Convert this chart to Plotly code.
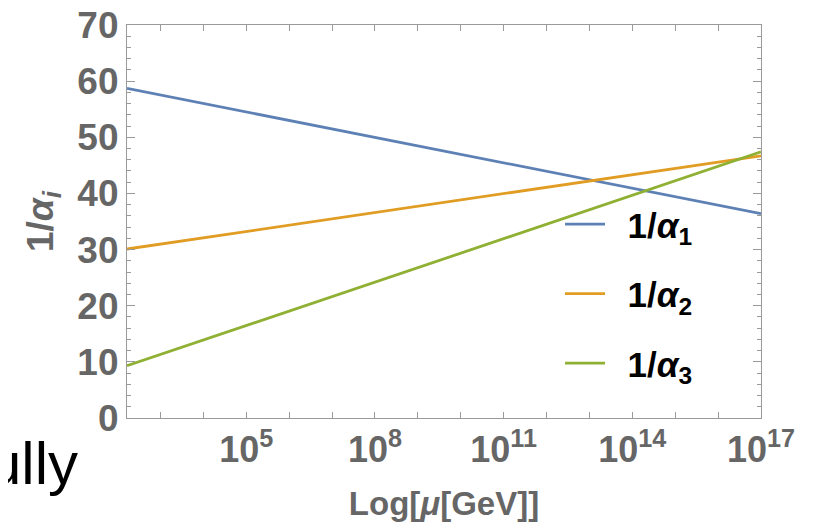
import plotly.graph_objects as go

# Data: one-loop running of inverse gauge couplings (straight lines in log mu)
mu = [10**2.22, 1e17]
inv_alpha1 = [58.7, 36.4]
inv_alpha2 = [30.1, 46.7]
inv_alpha3 = [9.3, 47.4]
names = ["\u20021/<i>α</i><sub>1</sub>", "\u20021/<i>α</i><sub>2</sub>", "\u20021/<i>α</i><sub>3</sub>"]
colors = ["#5E81B5", "#E19C24", "#8FB032"]

x_tickvals = [10**k for k in range(3, 18)]
x_ticktext = [("10<sup>%d</sup>" % k) if k in (5, 8, 11, 14, 17) else "" for k in range(3, 18)]
y_tickvals = [0, 10, 20, 30, 40, 50, 60, 70]
y_ticktext = [str(v) for v in y_tickvals]

fig = go.Figure()
for i, (ys, nm, c) in enumerate(zip([inv_alpha1, inv_alpha2, inv_alpha3], names, colors)):
    fig.add_trace(go.Scatter(x=mu, y=ys, mode="lines", name=nm,
                             line=dict(color=c, width=2.8), legendgroup="g%d" % i))

grey = "#666666"
axcol = "#9a9a9a"
fig.update_layout(
    width=818, height=528,
    margin=dict(l=119, r=65, t=17, b=118, autoexpand=False),
    paper_bgcolor="white", plot_bgcolor="white",
    font=dict(family="Liberation Sans, Arial, sans-serif", color=grey),
    showlegend=True,
    legend=dict(x=0.683, y=0.568, xanchor="left", yanchor="top",
                bgcolor="rgba(0,0,0,0)", tracegroupgap=21, itemwidth=40,
                font=dict(size=35, color="black", weight="bold")),
    xaxis=dict(type="log", range=[2.22, 17], showgrid=False, zeroline=False,
               automargin=False, ticklabeloverflow="allow",
               showline=True, linecolor=axcol, linewidth=1.2, mirror="ticks",
               ticks="inside", ticklen=6, tickcolor=axcol, tickwidth=1,
               tickvals=x_tickvals, ticktext=x_ticktext,
               tickfont=dict(size=36, color=grey, weight="bold"),
               title=dict(text="Log[<i>μ</i>[GeV]]", standoff=22,
                          font=dict(size=33, color=grey, weight="bold"))),
    yaxis=dict(range=[0, 70], showgrid=False, zeroline=False,
               automargin=False, ticklabeloverflow="allow",
               showline=True, linecolor=axcol, linewidth=1.2, mirror="ticks",
               ticks="inside", ticklen=8, tickcolor=axcol, tickwidth=1,
               tickvals=y_tickvals, ticktext=y_ticktext,
               tickfont=dict(size=37, color=grey, weight="bold"),
               minor=dict(dtick=2, ticks="inside", ticklen=4, tickcolor=axcol, tickwidth=1),
               title=dict(text="1/<i>α<sub>i</sub></i>", standoff=12,
                          font=dict(size=37, color=grey, weight="bold"))),
)
fig.add_annotation(text="ully", xref="paper", yref="paper",
                   x=-0.0741, y=-0.117, xanchor="right", yanchor="middle",
                   showarrow=False, font=dict(size=60, color="black",
                                              family="Liberation Sans, Arial, sans-serif"))

fig.write_html("out.html")
